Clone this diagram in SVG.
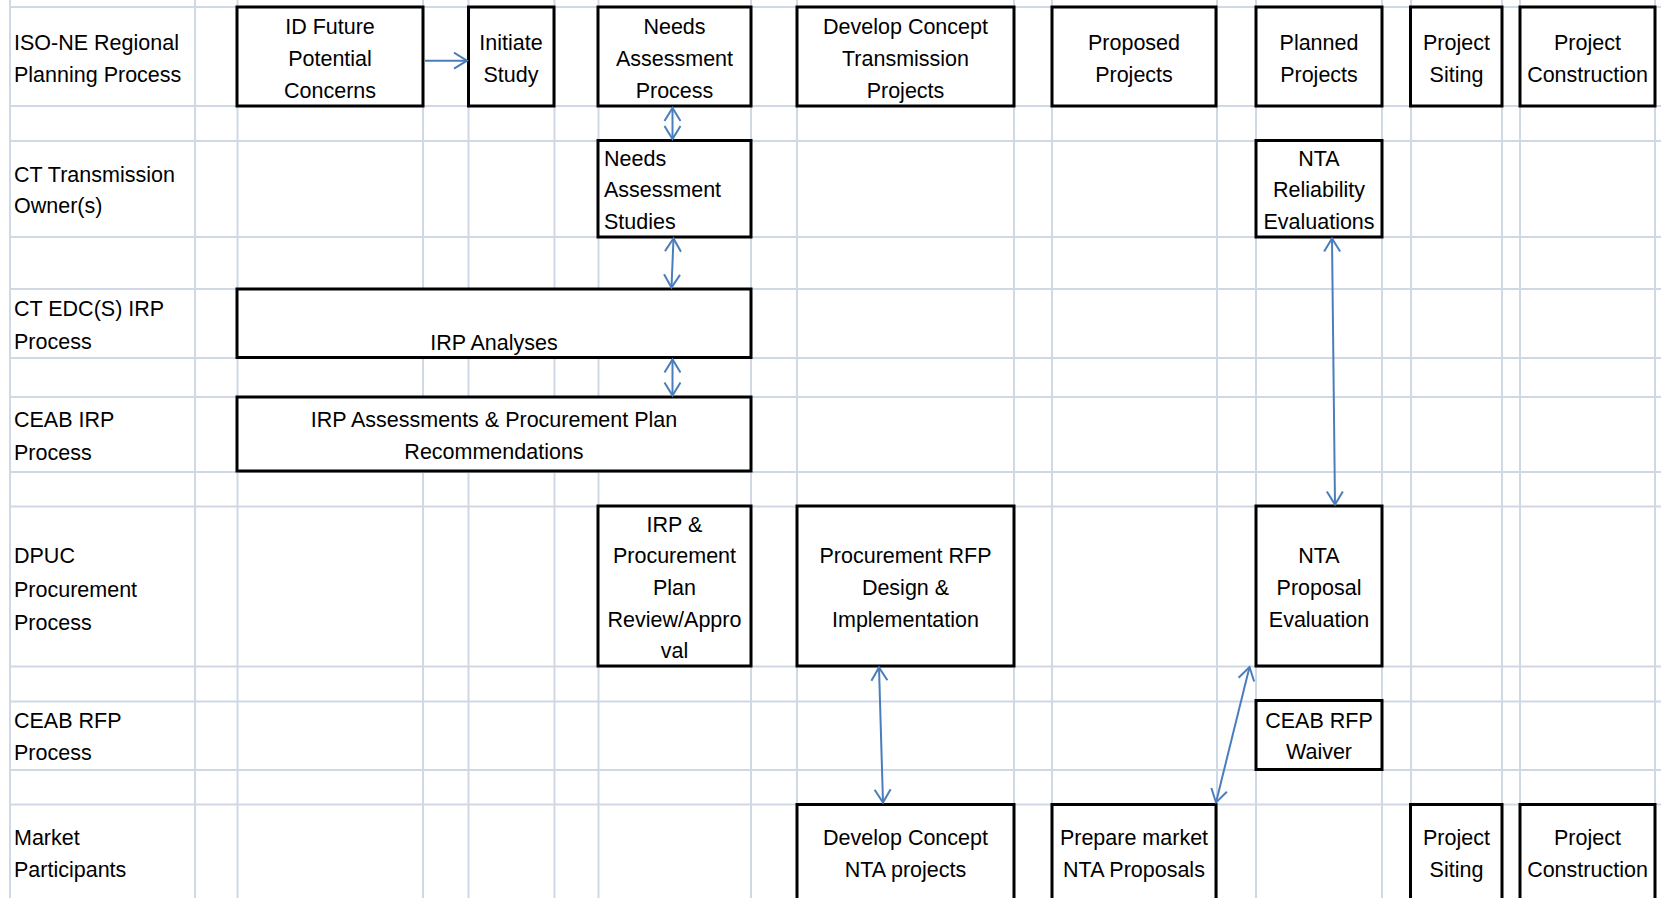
<svg xmlns="http://www.w3.org/2000/svg" width="1661" height="898" viewBox="0 0 1661 898">
<style>
.grid line{stroke:#D0D7E5;stroke-width:2}
.box{fill:#fff;stroke:#000;stroke-width:3}
text{font-family:"Liberation Sans",Arial,sans-serif;font-size:21.5px;fill:#000}
.c{text-anchor:middle}
.conn line{stroke:#4A7EBB;stroke-width:2;fill:none}
</style>
<defs>
<marker id="ah" viewBox="-16 -11 19 22" refX="0" refY="0" markerWidth="19" markerHeight="22" markerUnits="userSpaceOnUse" orient="auto-start-reverse">
<path d="M-13,-8 L0,0 L-13,8" fill="none" stroke="#4A7EBB" stroke-width="2"/>
</marker>
</defs>
<rect width="1661" height="898" fill="#fff"/>
<g class="grid">
<line x1="10" y1="0" x2="10" y2="898"/>
<line x1="195" y1="0" x2="195" y2="898"/>
<line x1="237.5" y1="0" x2="237.5" y2="898"/>
<line x1="423" y1="0" x2="423" y2="898"/>
<line x1="468.5" y1="0" x2="468.5" y2="898"/>
<line x1="554.5" y1="0" x2="554.5" y2="898"/>
<line x1="598.5" y1="0" x2="598.5" y2="898"/>
<line x1="751" y1="0" x2="751" y2="898"/>
<line x1="797" y1="0" x2="797" y2="898"/>
<line x1="1014" y1="0" x2="1014" y2="898"/>
<line x1="1052" y1="0" x2="1052" y2="898"/>
<line x1="1217" y1="0" x2="1217" y2="898"/>
<line x1="1256" y1="0" x2="1256" y2="898"/>
<line x1="1382" y1="0" x2="1382" y2="898"/>
<line x1="1411" y1="0" x2="1411" y2="898"/>
<line x1="1502" y1="0" x2="1502" y2="898"/>
<line x1="1520" y1="0" x2="1520" y2="898"/>
<line x1="1655" y1="0" x2="1655" y2="898"/>
<line x1="10" y1="7" x2="1661" y2="7"/>
<line x1="10" y1="106" x2="1661" y2="106"/>
<line x1="10" y1="141" x2="1661" y2="141"/>
<line x1="10" y1="237" x2="1661" y2="237"/>
<line x1="10" y1="289" x2="1661" y2="289"/>
<line x1="10" y1="358" x2="1661" y2="358"/>
<line x1="10" y1="397" x2="1661" y2="397"/>
<line x1="10" y1="472" x2="1661" y2="472"/>
<line x1="10" y1="506.5" x2="1661" y2="506.5"/>
<line x1="10" y1="666.5" x2="1661" y2="666.5"/>
<line x1="10" y1="701.5" x2="1661" y2="701.5"/>
<line x1="10" y1="770" x2="1661" y2="770"/>
<line x1="10" y1="804.5" x2="1661" y2="804.5"/>
</g>
<g id="lane-labels">
<text x="14" y="50">ISO-NE Regional</text><text x="14" y="82">Planning Process</text>
<text x="14" y="181.7">CT Transmission</text><text x="14" y="213.4">Owner(s)</text>
<text x="14" y="316">CT EDC(S) IRP</text><text x="14" y="348.5">Process</text>
<text x="14" y="426.7">CEAB IRP</text><text x="14" y="460">Process</text>
<text x="14" y="563">DPUC</text><text x="14" y="596.5">Procurement</text><text x="14" y="630">Process</text>
<text x="14" y="727.5">CEAB RFP</text><text x="14" y="760">Process</text>
<text x="14" y="845">Market</text><text x="14" y="877.3">Participants</text>
</g>
<g id="id-future"><rect class="box" x="237" y="7" width="186" height="99"/>
<text class="c" x="330" y="34">ID Future</text><text class="c" x="330" y="66">Potential</text><text class="c" x="330" y="97.7">Concerns</text></g>
<g id="initiate-study"><rect class="box" x="468.5" y="7" width="85.5" height="99"/>
<text class="c" x="511" y="50">Initiate</text><text class="c" x="511" y="82">Study</text></g>
<g id="needs-assessment-process"><rect class="box" x="598" y="7" width="153" height="99"/>
<text class="c" x="674.5" y="34">Needs</text><text class="c" x="674.5" y="66">Assessment</text><text class="c" x="674.5" y="97.7">Process</text></g>
<g id="develop-concept-tx"><rect class="box" x="797" y="7" width="217" height="99"/>
<text class="c" x="905.5" y="34">Develop Concept</text><text class="c" x="905.5" y="66">Transmission</text><text class="c" x="905.5" y="97.7">Projects</text></g>
<g id="proposed-projects"><rect class="box" x="1052" y="7" width="164" height="99"/>
<text class="c" x="1134" y="50">Proposed</text><text class="c" x="1134" y="82">Projects</text></g>
<g id="planned-projects"><rect class="box" x="1256" y="7" width="126" height="99"/>
<text class="c" x="1319" y="50">Planned</text><text class="c" x="1319" y="82">Projects</text></g>
<g id="project-siting-top"><rect class="box" x="1410.5" y="7" width="91.5" height="99"/>
<text class="c" x="1456.5" y="50">Project</text><text class="c" x="1456.5" y="82">Siting</text></g>
<g id="project-construction-top"><rect class="box" x="1520" y="7" width="135" height="99"/>
<text class="c" x="1587.5" y="50">Project</text><text class="c" x="1587.5" y="82">Construction</text></g>
<g id="needs-assessment-studies"><rect class="box" x="598" y="140.5" width="153" height="96.5"/>
<text x="604" y="165.7">Needs</text><text x="604" y="197.4">Assessment</text><text x="604" y="229">Studies</text></g>
<g id="nta-reliability"><rect class="box" x="1256" y="140.5" width="126" height="96.5"/>
<text class="c" x="1319" y="165.7">NTA</text><text class="c" x="1319" y="197.4">Reliability</text><text class="c" x="1319" y="229">Evaluations</text></g>
<g id="irp-analyses"><rect class="box" x="237" y="289" width="514" height="68.5"/>
<text class="c" x="494" y="350">IRP Analyses</text></g>
<g id="ceab-irp"><rect class="box" x="237" y="397" width="514" height="74"/>
<text class="c" x="494" y="426.7">IRP Assessments &amp; Procurement Plan</text><text class="c" x="494" y="458.5">Recommendations</text></g>
<g id="irp-procurement-review"><rect class="box" x="598" y="506" width="153" height="160"/>
<text class="c" x="674.5" y="531.7">IRP &amp;</text><text class="c" x="674.5" y="562.7">Procurement</text><text class="c" x="674.5" y="595">Plan</text><text class="c" x="674.5" y="626.7">Review/Appro</text><text class="c" x="674.5" y="657.7">val</text></g>
<g id="procurement-rfp"><rect class="box" x="797" y="506" width="217" height="160"/>
<text class="c" x="905.5" y="562.7">Procurement RFP</text><text class="c" x="905.5" y="595">Design &amp;</text><text class="c" x="905.5" y="626.7">Implementation</text></g>
<g id="nta-proposal-evaluation"><rect class="box" x="1256" y="506" width="126" height="160"/>
<text class="c" x="1319" y="562.7">NTA</text><text class="c" x="1319" y="595">Proposal</text><text class="c" x="1319" y="626.7">Evaluation</text></g>
<g id="ceab-rfp-waiver"><rect class="box" x="1256" y="700.5" width="126" height="69"/>
<text class="c" x="1319" y="727.7">CEAB RFP</text><text class="c" x="1319" y="759.3">Waiver</text></g>
<g id="develop-concept-nta"><rect class="box" x="797" y="804.5" width="217" height="120"/>
<text class="c" x="905.5" y="845">Develop Concept</text><text class="c" x="905.5" y="876.7">NTA projects</text></g>
<g id="prepare-market"><rect class="box" x="1052" y="804.5" width="164" height="120"/>
<text class="c" x="1134" y="845">Prepare market</text><text class="c" x="1134" y="876.7">NTA Proposals</text></g>
<g id="project-siting-bottom"><rect class="box" x="1410.5" y="804.5" width="91.5" height="120"/>
<text class="c" x="1456.5" y="845">Project</text><text class="c" x="1456.5" y="876.7">Siting</text></g>
<g id="project-construction-bottom"><rect class="box" x="1520" y="804.5" width="135" height="120"/>
<text class="c" x="1587.5" y="845">Project</text><text class="c" x="1587.5" y="876.7">Construction</text></g>
<g class="conn" id="connectors">
<line x1="425" y1="60.7" x2="467" y2="60.7" marker-end="url(#ah)"/>
<line x1="672.5" y1="108" x2="672.5" y2="139" marker-start="url(#ah)" marker-end="url(#ah)"/>
<line x1="673.5" y1="238.5" x2="671.5" y2="287.5" marker-start="url(#ah)" marker-end="url(#ah)"/>
<line x1="672.5" y1="359.5" x2="672.5" y2="395.5" marker-start="url(#ah)" marker-end="url(#ah)"/>
<line x1="1332" y1="238.5" x2="1335" y2="504.5" marker-start="url(#ah)" marker-end="url(#ah)"/>
<line x1="879" y1="667.5" x2="883" y2="802.5" marker-start="url(#ah)" marker-end="url(#ah)"/>
<line x1="1249.5" y1="667" x2="1216" y2="802.5" marker-start="url(#ah)" marker-end="url(#ah)"/>
</g>
</svg>
